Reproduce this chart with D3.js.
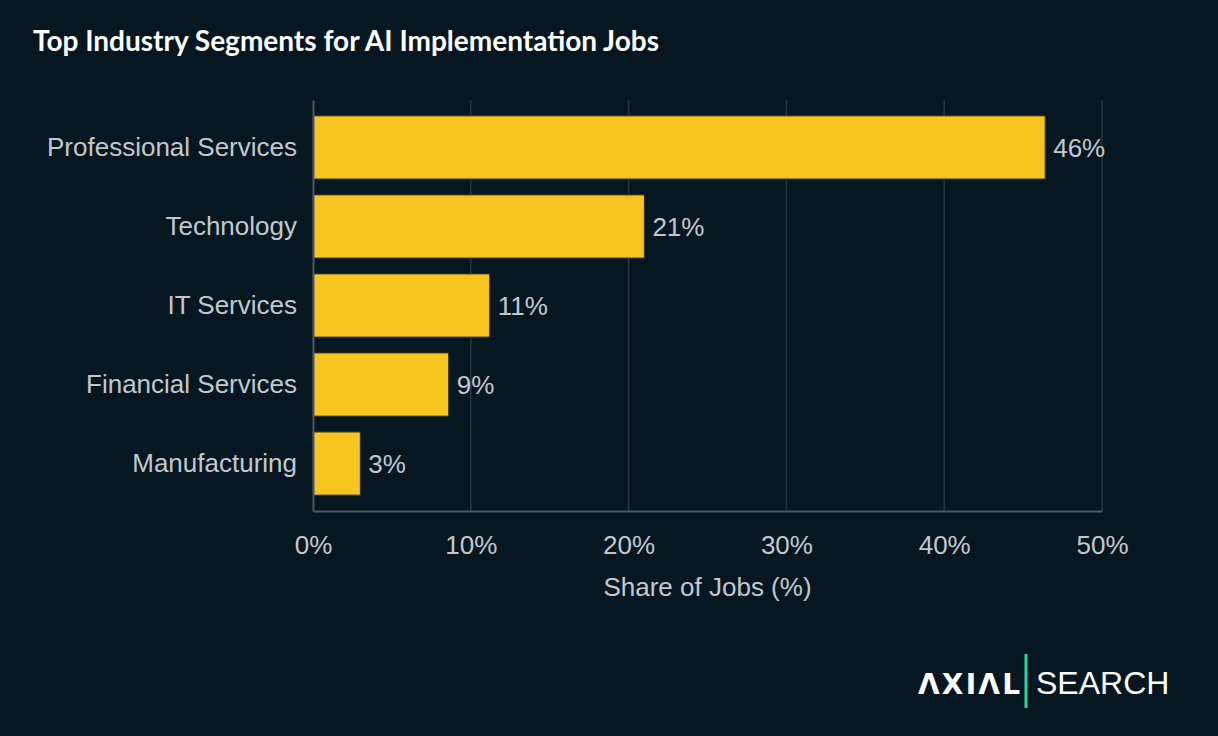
<!DOCTYPE html>
<html>
<head>
<meta charset="utf-8">
<script src="https://cdn.jsdelivr.net/npm/d3@7"></script>
<style>
  html, body { margin: 0; padding: 0; background: #071722; }
  svg { display: block; }
</style>
</head>
<body>
<div id="chart"></div>
<script>
const width = 1218;
const height = 736;

const categories = ["Professional Services", "Technology", "IT Services", "Financial Services", "Manufacturing"];
const shares = [46.4, 21.0, 11.2, 8.6, 3.0];
const valueLabels = ["46%", "21%", "11%", "9%", "3%"];
const xTicks = [0, 10, 20, 30, 40, 50];

const margin = { top: 100, right: 116, bottom: 225, left: 313 };
const labelFont = "'Liberation Sans', Arial, sans-serif";
const labelColor = "#c2c8ce";

const svg = d3.select("#chart")
    .append("svg")
    .attr("width", width)
    .attr("height", height);

svg.append("rect")
    .attr("width", width)
    .attr("height", height)
    .attr("fill", "#071722");

const x = d3.scaleLinear()
    .domain([0, 50])
    .range([margin.left, width - margin.right]);

const y = d3.scaleBand()
    .domain(categories)
    .range([margin.top, height - margin.bottom])
    .paddingInner(0.2)
    .paddingOuter(0.2);

// grid lines
svg.append("g")
    .selectAll("line")
    .data(xTicks.slice(1))
    .enter()
    .append("line")
    .attr("x1", d => x(d))
    .attr("x2", d => x(d))
    .attr("y1", margin.top)
    .attr("y2", height - margin.bottom)
    .attr("stroke", "#26343e")
    .attr("stroke-width", 1.5);

// bars
const data = categories.map((c, i) => ({ cat: c, v: shares[i], label: valueLabels[i] }));

svg.append("g")
    .selectAll("rect")
    .data(data)
    .enter()
    .append("rect")
    .attr("x", x(0))
    .attr("y", d => y(d.cat))
    .attr("width", d => x(d.v) - x(0))
    .attr("height", y.bandwidth())
    .attr("fill", "#f7c520")
    .attr("stroke", "#2b2b1e")
    .attr("stroke-width", 1);

// value labels
svg.append("g")
    .selectAll("text")
    .data(data)
    .enter()
    .append("text")
    .attr("x", d => x(d.v) + 8)
    .attr("y", d => y(d.cat) + y.bandwidth() / 2)
    .attr("dy", "0.35em")
    .attr("fill", labelColor)
    .style("font-family", labelFont)
    .style("font-size", "26px")
    .text(d => d.label);

// x axis
const xAxis = svg.append("g")
    .attr("transform", "translate(0," + (height - margin.bottom) + ")")
    .call(d3.axisBottom(x).tickValues(xTicks).tickFormat(d => d + "%").tickSize(0).tickPadding(25));
xAxis.select(".domain").attr("stroke", "#4b5862").attr("stroke-width", 2);
xAxis.selectAll("text")
    .attr("fill", labelColor)
    .style("font-family", labelFont)
    .style("font-size", "26px");

// y axis
const yAxis = svg.append("g")
    .attr("transform", "translate(" + margin.left + ",0)")
    .call(d3.axisLeft(y).tickSize(0).tickPadding(16));
yAxis.select(".domain").attr("stroke", "#4b5862").attr("stroke-width", 2);
yAxis.selectAll("text")
    .attr("fill", labelColor)
    .style("font-family", labelFont)
    .style("font-size", "26px");

// axis title
svg.append("text")
    .attr("x", (x(0) + x(50)) / 2)
    .attr("y", 596)
    .attr("text-anchor", "middle")
    .attr("fill", labelColor)
    .style("font-family", labelFont)
    .style("font-size", "26px")
    .text("Share of Jobs (%)");

// title
svg.append("text")
    .attr("x", 33)
    .attr("y", 51)
    .attr("fill", "#ffffff")
    .style("font-family", "Lato, sans-serif")
    .style("font-weight", "bold")
    .style("font-size", "28px")
    .text("Top Industry Segments for AI Implementation Jobs");

// logo
const logo = svg.append("g");
logo.append("text")
    .attr("x", 918)
    .attr("y", 694)
    .attr("fill", "#ffffff")
    .style("font-family", "'DejaVu Sans', sans-serif")
    .style("font-weight", "bold")
    .style("font-size", "28px")
    .style("letter-spacing", "2.2px")
    .text("ΛXIΛL");
logo.append("line")
    .attr("x1", 1026)
    .attr("x2", 1026)
    .attr("y1", 654)
    .attr("y2", 708)
    .attr("stroke", "#2fd6a3")
    .attr("stroke-width", 3);
logo.append("text")
    .attr("x", 1036)
    .attr("y", 694)
    .attr("fill", "#ffffff")
    .style("font-family", labelFont)
    .style("font-size", "32px")
    .text("SEARCH");
</script>
</body>
</html>
